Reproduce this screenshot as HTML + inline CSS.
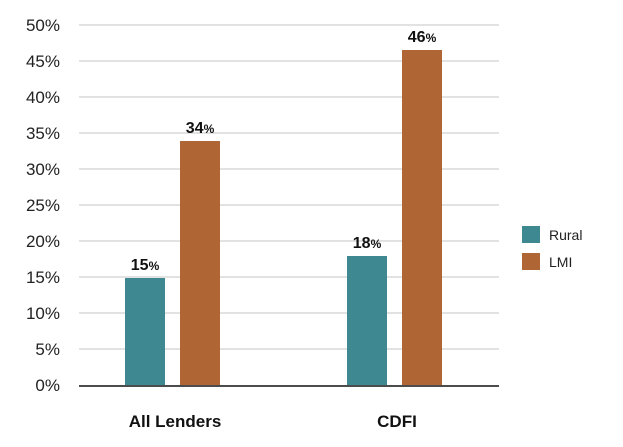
<!DOCTYPE html>
<html><head><style>
body{margin:0;background:#fff;}
svg{display:block;font-family:"Liberation Sans",sans-serif;}
</style></head><body>
<svg width="623" height="447" viewBox="0 0 623 447">
<g stroke="#d9d9d9" stroke-width="1.5">
<line x1="79" x2="499" y1="25" y2="25"/><line x1="79" x2="499" y1="61" y2="61"/>
<line x1="79" x2="499" y1="97" y2="97"/><line x1="79" x2="499" y1="133" y2="133"/>
<line x1="79" x2="499" y1="169" y2="169"/><line x1="79" x2="499" y1="205" y2="205"/>
<line x1="79" x2="499" y1="241" y2="241"/><line x1="79" x2="499" y1="277" y2="277"/>
<line x1="79" x2="499" y1="313" y2="313"/><line x1="79" x2="499" y1="349" y2="349"/>
</g>
<g font-size="17" fill="#222" text-anchor="end">
<text x="60" y="31">50%</text><text x="60" y="67">45%</text><text x="60" y="103">40%</text>
<text x="60" y="139">35%</text><text x="60" y="175">30%</text><text x="60" y="211">25%</text>
<text x="60" y="247">20%</text><text x="60" y="283">15%</text><text x="60" y="319">10%</text>
<text x="60" y="355">5%</text><text x="60" y="391">0%</text>
</g>
<rect x="125" y="278" width="40" height="107" fill="#3e8891"/>
<rect x="180" y="141" width="40" height="244" fill="#b06634"/>
<rect x="347" y="256" width="40" height="129" fill="#3e8891"/>
<rect x="402" y="50" width="40" height="335" fill="#b06634"/>
<line x1="79" x2="499" y1="386" y2="386" stroke="#111" stroke-width="1.5"/>
<g font-size="16" font-weight="bold" fill="#111" text-anchor="middle">
<text x="145" y="270">15<tspan font-size="12">%</tspan></text>
<text x="200" y="133">34<tspan font-size="12">%</tspan></text>
<text x="367" y="248">18<tspan font-size="12">%</tspan></text>
<text x="422" y="42">46<tspan font-size="12">%</tspan></text>
</g>
<g font-size="17" font-weight="bold" fill="#111" text-anchor="middle">
<text x="175" y="427">All Lenders</text>
<text x="397" y="427">CDFI</text>
</g>
<rect x="522" y="226" width="18" height="17" fill="#3e8891"/>
<rect x="522" y="253" width="18" height="17" fill="#b06634"/>
<g font-size="14" fill="#222"><text x="549" y="240">Rural</text><text x="549" y="267">LMI</text></g>
</svg>
</body></html>
